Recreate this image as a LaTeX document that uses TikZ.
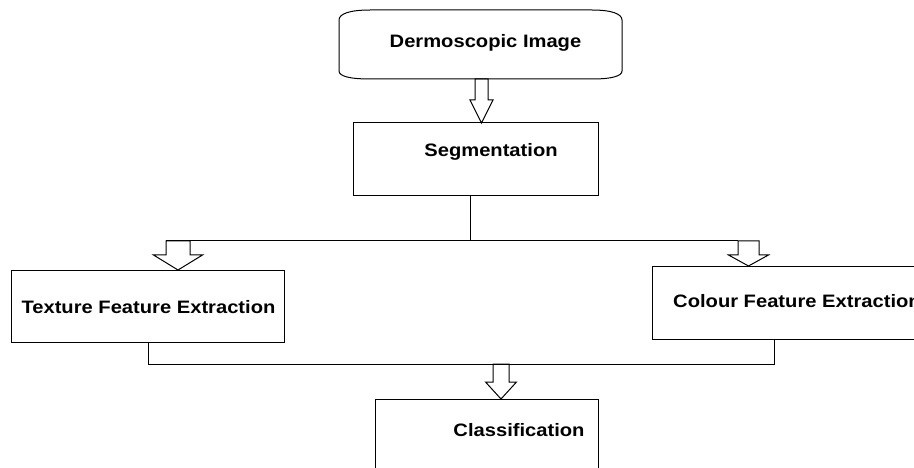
\documentclass[tikz,border=0pt]{standalone}
\usepackage{fontspec}
\setmainfont{Liberation Sans}[FakeStretch=1.12]
\newcommand{\hollowdown}[6]{% cx, top, headY, tip, shaftHalf, headHalf
  \draw[conn] (#1-#5,#2) -- (#1-#5,#3) -- (#1-#6,#3) -- (#1,#4) -- (#1+#6,#3) -- (#1+#5,#3) -- (#1+#5,#2) -- cycle;}
\tikzset{
  box/.style={draw, line width=1pt, rectangle, inner sep=0pt},
  lbl/.style={font=\fontsize{18}{20}\selectfont\bfseries, inner sep=0pt, anchor=base},
  conn/.style={draw, line width=1pt, line join=miter},
}
\begin{document}
\begin{tikzpicture}[x=1pt,y=-1pt]
\useasboundingbox (0,0) rectangle (914,468);
\clip (0,0) rectangle (914,468);
% Dermoscopic image (rounded terminal)
\draw[line width=1pt] (370,10) -- (592,10) .. controls (612,10) and (622,14) .. (622,20) -- (622,71)
  .. controls (622,76) and (612,79) .. (592,79) -- (370,79)
  .. controls (349,79) and (339,76) .. (339,71) -- (339,20)
  .. controls (339,14) and (349,10) .. (370,10);
\coordinate (img) at (480.5,44.5);
\node[lbl] (imgtxt) at (485.5,48) {Dermoscopic Image};
% boxes
\node[box, minimum width=245pt, minimum height=73pt] (seg) at (475.5,159.5) {};
\node[lbl] (segtxt) at (491,157) {Segmentation};
\node[box, minimum width=273pt, minimum height=72pt] (tex) at (147.5,306) {};
\node[lbl] (textxt) at (148.5,313) {Texture Feature Extraction};
\node[box, minimum width=308pt, minimum height=73pt] (col) at (806,302.5) {};
\node[lbl, anchor=base west] (coltxt) at (673,307) {Colour Feature Extraction};
\node[box, minimum width=223pt, minimum height=101pt] (cls) at (486.5,449.5) {};
\node[lbl] (clstxt) at (519,436) {Classification};
% connectors
\coordinate (split) at (470,241);
\coordinate (merge) at (501,364);
\draw[line width=1pt] (470,196) -- (split);
\draw[line width=1pt] (166,241) -- (738,241);
\draw[line width=1pt] (148,342) -- (148,364) -- (774,364) -- (774,339);
\hollowdown{481.5}{79}{100}{123}{6.5}{11.5}
\hollowdown{178}{241}{255}{270}{12}{24.5}
\hollowdown{748.5}{241}{255}{266}{10.5}{20}
\hollowdown{501}{364}{382}{399}{8}{15.5}
\end{tikzpicture}
\end{document}
